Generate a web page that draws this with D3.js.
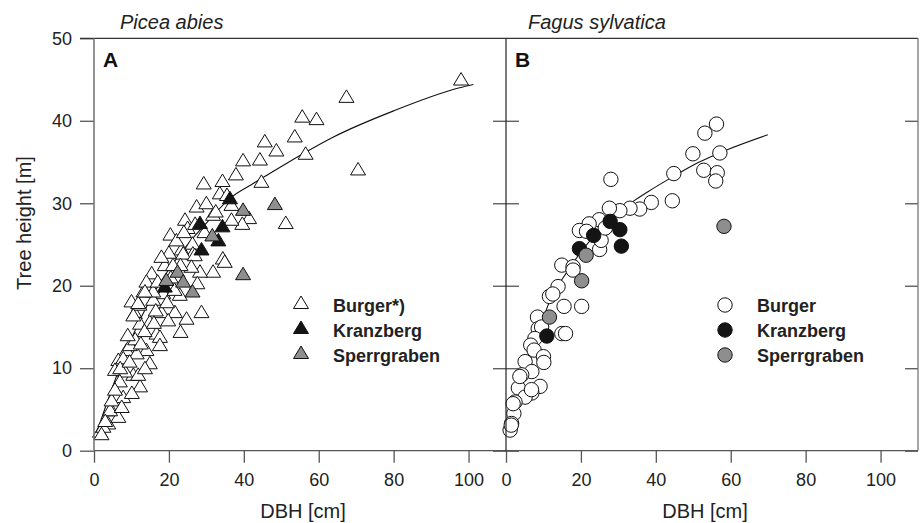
<!DOCTYPE html>
<html>
<head>
<meta charset="utf-8">
<script src="https://cdn.jsdelivr.net/npm/d3@7"></script>
<style>
  body { margin: 0; background: #fff; }
  svg { display: block; font-family: "Liberation Sans", Arial, sans-serif; }
</style>
</head>
<body>
<svg id="chart" width="920" height="523"></svg>
<script>
// Tree height vs DBH, two species.
const xTicks = [0, 20, 40, 60, 80, 100];
const yTicks = [0, 10, 20, 30, 40, 50];

// Picea abies (panel A) — [DBH cm, height m]
const piceaBurger = [
  [98,45],[67.4,42.9],[55.6,40.5],[59.4,40.2],[53.6,38.1],[45.6,37.5],[48.7,36.4],[56.5,36.0],
  [70.5,34.1],[39.8,35.2],[44.3,35.3],[44.7,32.6],[37.9,33.5],[34.3,32.7],[29.3,32.4],[33.6,31.2],
  [36.7,29.8],[51.2,27.6],[41.4,28.2],[39.6,27.5],[27.4,29.6],[24.3,28.0],[31.8,28.6],[36.7,28.0],
  [20.4,26.2],[26.3,25.1],[34.4,23.3],[23.4,24.4],[26.4,23.9],[23.8,23.9],[26.9,23.7],[29.5,26.5],
  [25.0,27.0],[31.8,21.7],[28.3,21.7],[26.0,22.3],[15.4,21.5],[18.9,22.5],[23.1,22.5],[34.9,22.9],
  [27.6,20.3],[22.9,18.9],[18.5,19.1],[13.2,19.3],[15.8,18.3],[28.7,16.8],[24.7,16.0],[21.6,16.8],
  [18.0,16.8],[19.8,15.8],[23.1,14.4],[16.7,14.2],[10.9,16.7],[12.3,15.4],[14.9,15.6],[10.0,18.1],
  [12.1,17.7],[14.0,20.5],[11.8,17.9],[10.5,16.4],[15.8,19.3],[13.6,19.3],[17.6,13.8],[17.6,12.8],
  [14.9,10.6],[14.0,12.2],[12.3,7.8],[10.5,9.2],[7.8,6.5],[4.7,4.9],[3.8,3.3],[1.6,2.3],
  [8.7,12.2],[6.5,11.0],[5.6,9.8],[10.1,7.0],[6.5,4.1],[4.3,4.9],[2.5,2.9],[8.3,9.6],
  [6.9,8.4],[4.7,6.1],[5.6,7.4],[11.4,11.8],[9.6,12.8],[7.8,11.2],[11.8,9.2],[13.6,10.0],
  [7.4,5.3],[2.0,2.0],[3.0,3.6],[20.5,21.0],[17.0,20.5],[21.5,19.5],[19.5,18.0],[16.5,17.0],
  [13.5,14.5],[11.0,13.5],[9.0,14.0],[12.5,13.0],[7.0,10.0],[9.5,10.8],[16.0,15.5],[20.0,24.0],
  [22.0,25.5],[24.0,26.5],[27.0,27.5],[30.0,30.0],[32.5,29.0],[35.5,31.0],[18.0,23.5],[21.1,22.5]
];
const piceaKranzberg = [[36.3,30.6],[28.3,27.6],[34.3,27.2],[33.2,25.5],[28.7,24.4],[18.9,19.9]];
const piceaSperrgraben = [[39.8,29.2],[48.3,29.9],[31.6,26.1],[39.8,21.4],[22.3,21.7],[19.3,20.7],[23.8,20.5],[26.3,19.3]];
const piceaCurve = [
  [0,1.3],[2,3.9],[5,7.8],[10,13.6],[15,18.3],[20,22.0],[25,25.0],[30,27.6],[36.3,30.6],
  [42.5,32.4],[46.9,33.6],[55.8,36.0],[63.8,38.0],[80,41.2],[97.6,44.0],[101.3,44.4]
];

// Fagus sylvatica (panel B)
const fagusBurger = [
  [56.2,39.6],[53.1,38.5],[49.9,36.0],[57.1,36.1],[52.8,34.0],[56.4,33.7],[56.0,32.7],[44.8,33.6],
  [28.0,32.9],[44.4,30.3],[38.8,30.1],[35.7,29.3],[33.1,29.4],[30.4,29.1],[27.6,29.4],[24.9,28.0],
  [22.2,27.5],[19.6,26.7],[21.5,26.6],[25.0,24.4],[25.4,25.5],[26.5,27.0],[14.9,22.5],[17.9,22.3],
  [17.9,21.9],[13.9,19.9],[11.6,18.7],[12.5,19.0],[20.2,17.5],[15.5,17.5],[8.4,16.2],[8.6,14.8],
  [9.5,15.0],[14.9,14.2],[15.9,14.2],[7.7,13.6],[6.6,12.8],[7.5,12.2],[10.0,11.4],[10.1,10.7],
  [5.1,10.8],[6.9,9.6],[4.2,9.2],[3.3,7.6],[9.1,7.8],[6.9,7.0],[5.1,6.5],[2.4,5.9],
  [2.1,4.5],[1.5,3.3],[1.1,2.5],[3.7,9.0],[6.8,7.4],[1.9,5.7],[1.4,3.1]
];
const fagusKranzberg = [[27.8,27.8],[30.4,26.8],[23.4,26.1],[30.8,24.8],[19.6,24.5],[10.9,13.9]];
const fagusSperrgraben = [[58.2,27.2],[21.4,23.7],[20.2,20.6],[11.6,16.2]];
const fagusCurve = [
  [0.5,2.2],[3,6.2],[6.3,10.8],[12,18.5],[16.5,21.8],[20.5,24.4],[27.7,27.9],[33.9,30.2],
  [37.9,31.4],[44.5,33.2],[51.2,34.9],[57,36.1],[69.9,38.3]
];

const legendNamesA = ["Burger*)", "Kranzberg", "Sperrgraben"];
const legendNamesB = ["Burger", "Kranzberg", "Sperrgraben"];
const groupFills = ["#ffffff", "#141414", "#8e8e8e"];

const svg = d3.select("#chart");
const plotTop = 38.3, plotBottom = 450.7;
const panelW = 412;
const y = d3.scaleLinear().domain([0, 50]).range([plotBottom, plotTop]);

const axisColor = "#555";
const textColor = "#222";

const triangle = "M0,-7L7.5,5.5L-7.5,5.5Z";

function styleAxis(a, hideText) {
  a.select(".domain").remove();
  a.selectAll(".tick line").attr("stroke", axisColor).attr("stroke-width", 1.3);
  a.selectAll("text").attr("fill", textColor).attr("font-size", 18);
  if (hideText) a.selectAll("text").remove();
}

function drawPanel(x0, opts) {
  const x = d3.scaleLinear().domain([0, 110]).range([x0, x0 + panelW]);
  const g = svg.append("g");

  // bottom axis
  g.append("g")
    .attr("transform", `translate(0,${plotBottom})`)
    .call(d3.axisBottom(x).tickValues(xTicks).tickSize(12).tickSizeOuter(0).tickPadding(11))
    .call(a => styleAxis(a, false));

  const line = d3.line().x(d => x(d[0])).y(d => y(d[1])).curve(d3.curveMonotoneX);
  g.append("path")
    .attr("d", line(opts.curve))
    .attr("fill", "none")
    .attr("stroke", "#111")
    .attr("stroke-width", 1.1);

  const groups = [opts.burger, opts.kranzberg, opts.sperrgraben];
  groups.forEach((pts, i) => {
    const sel = g.append("g").selectAll(".m")
      .data(pts)
      .join(opts.shape === "tri" ? "path" : "circle")
      .attr("class", "m");
    if (opts.shape === "tri") {
      sel.attr("d", triangle)
        .attr("transform", d => `translate(${x(d[0])},${y(d[1])})`);
    } else {
      sel.attr("cx", d => x(d[0])).attr("cy", d => y(d[1])).attr("r", 7.2);
    }
    sel.attr("fill", groupFills[i])
      .attr("stroke", "#111")
      .attr("stroke-width", 1);
  });

  // panel letter
  g.append("text")
    .attr("x", x0 + 9)
    .attr("y", 67)
    .attr("font-size", 21)
    .attr("font-weight", "bold")
    .attr("fill", "#111")
    .text(opts.letter);

  // species title
  g.append("text")
    .attr("x", opts.titleX)
    .attr("y", 29)
    .attr("font-size", 20)
    .attr("font-style", "italic")
    .attr("fill", textColor)
    .text(opts.title);

  // x label
  g.append("text")
    .attr("x", opts.labelX)
    .attr("y", 518)
    .attr("text-anchor", "middle")
    .attr("font-size", 20)
    .attr("fill", textColor)
    .text("DBH [cm]");

  // legend
  const lg = g.append("g");
  opts.names.forEach((name, i) => {
    const cy = 303 + i * 25;
    if (opts.shape === "tri") {
      lg.append("path").attr("d", triangle)
        .attr("transform", `translate(${opts.legendX},${cy})`)
        .attr("fill", groupFills[i]).attr("stroke", "#111");
    } else {
      lg.append("circle").attr("cx", opts.legendX).attr("cy", cy + 2).attr("r", 7.2)
        .attr("fill", groupFills[i]).attr("stroke", "#111");
    }
    lg.append("text")
      .attr("x", opts.legendX + 32)
      .attr("y", cy + 9)
      .attr("font-size", 18)
      .attr("font-weight", "bold")
      .attr("fill", textColor)
      .text(name);
  });
  return x;
}

drawPanel(94, {
  burger: piceaBurger, kranzberg: piceaKranzberg, sperrgraben: piceaSperrgraben,
  curve: piceaCurve, shape: "tri", letter: "A", title: "Picea abies", titleX: 120,
  labelX: 303, names: legendNamesA, legendX: 301
});
drawPanel(506, {
  burger: fagusBurger, kranzberg: fagusKranzberg, sperrgraben: fagusSperrgraben,
  curve: fagusCurve, shape: "circ", letter: "B", title: "Fagus sylvatica", titleX: 528,
  labelX: 705, names: legendNamesB, legendX: 725
});

// left y axis with labels
svg.append("g")
  .attr("transform", "translate(94,0)")
  .call(d3.axisLeft(y).tickValues(yTicks).tickSize(14).tickSizeOuter(0).tickPadding(8))
  .call(a => styleAxis(a, false));

// divider ticks crossing both sides
svg.append("g")
  .attr("transform", "translate(506,0)")
  .call(d3.axisLeft(y).tickValues(yTicks.slice(0, 5)).tickSize(13).tickSizeOuter(0))
  .call(a => styleAxis(a, true));
svg.append("g")
  .attr("transform", "translate(506,0)")
  .call(d3.axisRight(y).tickValues(yTicks.slice(0, 5)).tickSize(13).tickSizeOuter(0))
  .call(a => styleAxis(a, true));

// right edge inward ticks
svg.append("g")
  .attr("transform", "translate(918,0)")
  .call(d3.axisLeft(y).tickValues(yTicks.slice(0, 5)).tickSize(13).tickSizeOuter(0))
  .call(a => styleAxis(a, true));

// frame
const frame = svg.append("g").attr("fill", "none");
frame.append("line").attr("x1", 80).attr("x2", 918).attr("y1", plotTop).attr("y2", plotTop)
  .attr("stroke", "#333").attr("stroke-width", 1.3);
frame.append("line").attr("x1", 94).attr("x2", 918).attr("y1", plotBottom).attr("y2", plotBottom)
  .attr("stroke", axisColor).attr("stroke-width", 1.3);
frame.append("line").attr("x1", 94).attr("x2", 94).attr("y1", plotTop).attr("y2", plotBottom)
  .attr("stroke", "#777").attr("stroke-width", 1.6);
frame.append("line").attr("x1", 506).attr("x2", 506).attr("y1", plotTop).attr("y2", plotBottom)
  .attr("stroke", "#222").attr("stroke-width", 1.2);
frame.append("line").attr("x1", 918).attr("x2", 918).attr("y1", plotTop).attr("y2", plotBottom)
  .attr("stroke", "#777").attr("stroke-width", 1.3);

// y label
svg.append("text")
  .attr("transform", "translate(31,223) rotate(-90)")
  .attr("text-anchor", "middle")
  .attr("font-size", 20)
  .attr("fill", textColor)
  .text("Tree height [m]");
</script>
</body>
</html>
